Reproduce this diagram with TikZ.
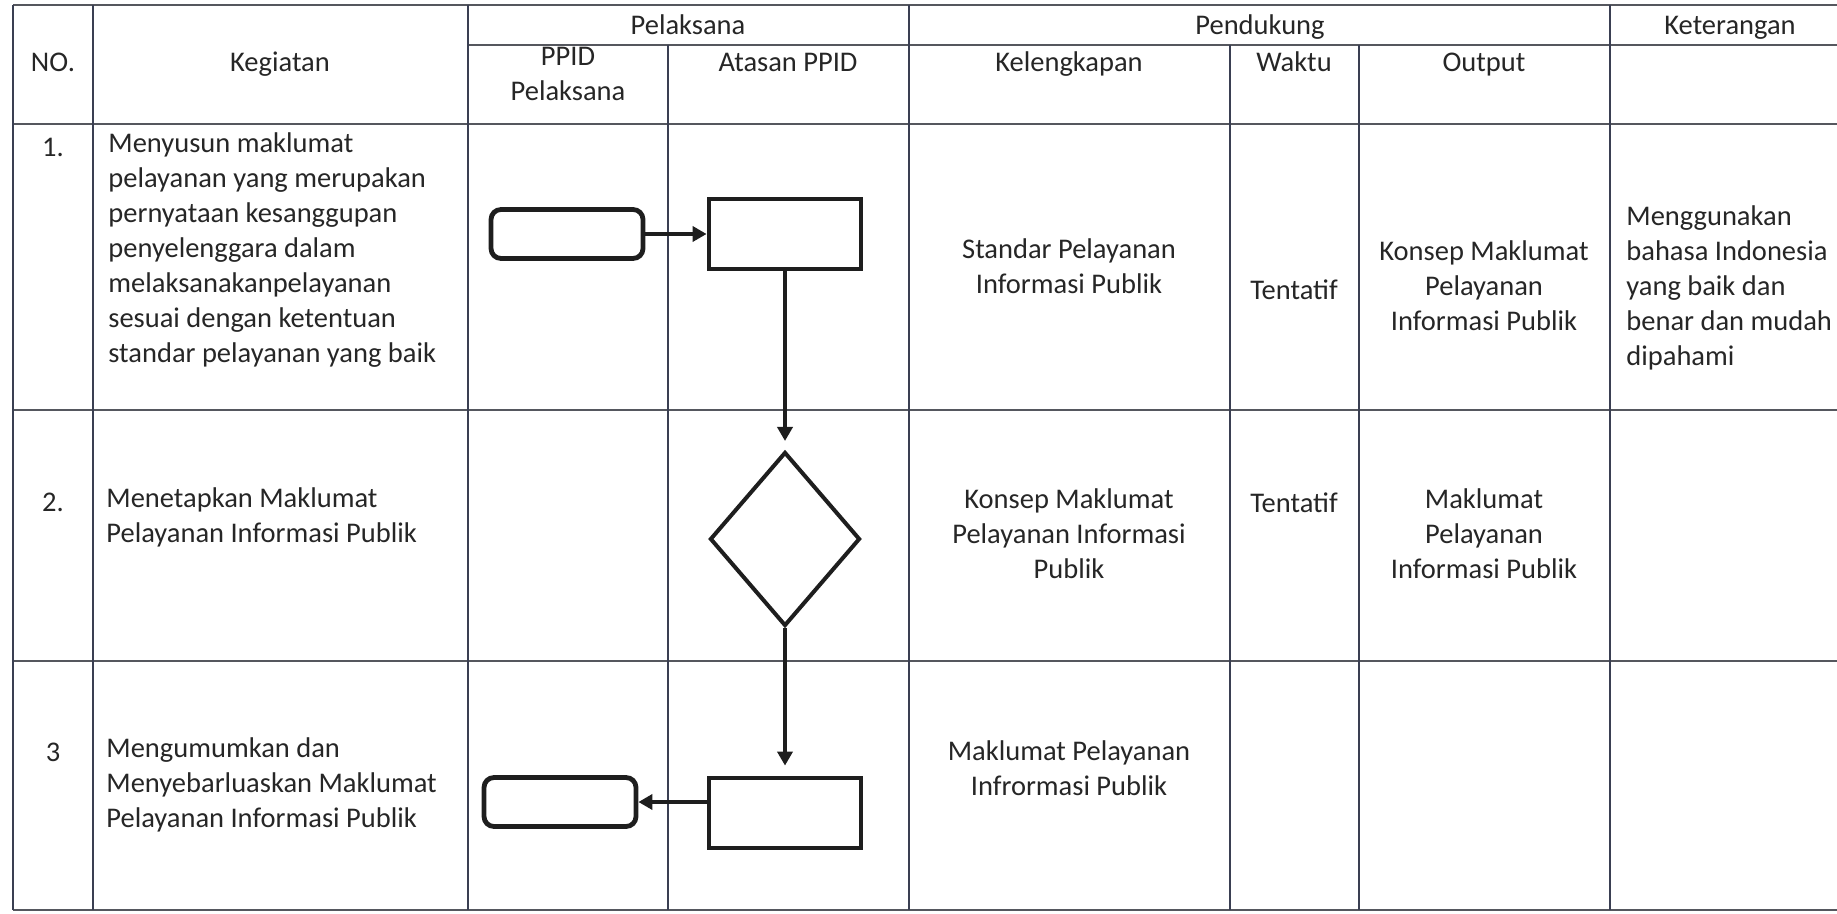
\documentclass[tikz,border=0pt]{standalone}
\usepackage{fontspec}
\setmainfont{Carlito}
\usepackage{xcolor}
\usepackage{tikz}
\usetikzlibrary{arrows.meta,positioning,shapes.geometric}
\definecolor{gridgray}{HTML}{55575E}
\definecolor{gridnavy}{HTML}{3A3F52}
\definecolor{textgray}{HTML}{262626}
\definecolor{shapeink}{HTML}{1E1E1E}
\newcommand{\cellfont}{\fontsize{14.25}{17.5}\selectfont}

\begin{document}
\begin{tikzpicture}[
  x=0.5pt, y=-0.5pt,
  hline/.style={draw=gridgray, line width=1.1pt},
  vline/.style={draw=gridnavy, line width=0.8pt},
  cell/.style={inner sep=0pt, text=textgray, font=\cellfont, execute at begin node=\strut},
  lcell/.style={cell, anchor=north west, align=left},
  ccell/.style={cell, anchor=north, align=center},
  term/.style={draw=shapeink, line width=2.4pt, rounded corners=5pt,
               minimum width=76pt, minimum height=24.5pt, inner sep=0pt},
  task/.style={draw=shapeink, line width=2.4pt, minimum width=76pt,
               minimum height=35pt, inner sep=0pt},
  decide/.style={diamond, draw=shapeink, line width=2pt, minimum width=75pt,
                 minimum height=87pt, inner sep=0pt},
  every edge/.style={draw=shapeink, line width=2.2pt, -{Triangle[length=7pt,width=7.5pt]}},
]
\useasboundingbox (0,0) rectangle (1837,914);

% table grid
\foreach \y in {5,124,410,661,910}
  \draw[hline] (13,\y) -- (1837,\y);
\draw[hline] (468,45) -- (1837,45);
\foreach \x in {13,93,468,909,1610}
  \draw[vline] (\x,5) -- (\x,910);
\foreach \x in {668,1230,1359}
  \draw[vline] (\x,45) -- (\x,910);

% header
\node[ccell] (hno) at (53,47) {NO.};
\node[ccell] (hkeg) at (280,47) {Kegiatan};
\node[ccell] (hpel) at (688,10) {Pelaksana};
\node[ccell] (hppid) at (568,47) {PPID\\Pelaksana};
\node[ccell] (hatas) at (788,47) {Atasan PPID};
\node[ccell] (hpend) at (1260,10) {Pendukung};
\node[ccell] (hkel) at (1069,47) {Kelengkapan};
\node[ccell] (hwak) at (1294,47) {Waktu};
\node[ccell] (hout) at (1484,47) {Output};
\node[ccell] (hket) at (1730,10) {Keterangan};

% row 1
\node[ccell] (no1) at (53,132) {1.};
\node[lcell] (keg1) at (108,132) {Menyusun maklumat\\pelayanan yang merupakan\\pernyataan kesanggupan\\penyelenggara dalam\\melaksanakanpelayanan\\sesuai dengan ketentuan\\standar pelayanan yang baik};
\node[ccell] (kel1) at (1069,238) {Standar Pelayanan\\Informasi Publik};
\node[ccell] (wak1) at (1294,275) {Tentatif};
\node[ccell] (out1) at (1484,240) {Konsep Maklumat\\Pelayanan\\Informasi Publik};
\node[lcell] (ket1) at (1626,205) {Menggunakan\\bahasa Indonesia\\yang baik dan\\benar dan mudah\\dipahami};

% row 2
\node[ccell] (no2) at (53,487) {2.};
\node[lcell] (keg2) at (106,487) {Menetapkan Maklumat\\Pelayanan Informasi Publik};
\node[ccell] (kel2) at (1069,488) {Konsep Maklumat\\Pelayanan Informasi\\Publik};
\node[ccell] (wak2) at (1294,488) {Tentatif};
\node[ccell] (out2) at (1484,488) {Maklumat\\Pelayanan\\Informasi Publik};

% row 3
\node[ccell] (no3) at (53,737) {3};
\node[lcell] (keg3) at (106,737) {Mengumumkan dan\\Menyebarluaskan Maklumat\\Pelayanan Informasi Publik};
\node[ccell] (kel3) at (1069,740) {Maklumat Pelayanan\\Infrormasi Publik};

% flow
\node[term] (start1) at (567,234) {};
\node[task] (task1) at (785,234) {};
\node[decide] (cek2) at (785,539) {};
\node[task] (task3) at (785,813) {};
\node[term] (end3) at (560,802) {};

\draw (start1) edge (task1);
\draw (task1) edge[shorten >=4.5pt] (cek2);
\draw (cek2) edge[shorten >=5pt] (task3);
\draw (task3.west |- end3) edge (end3);
\end{tikzpicture}
\end{document}
